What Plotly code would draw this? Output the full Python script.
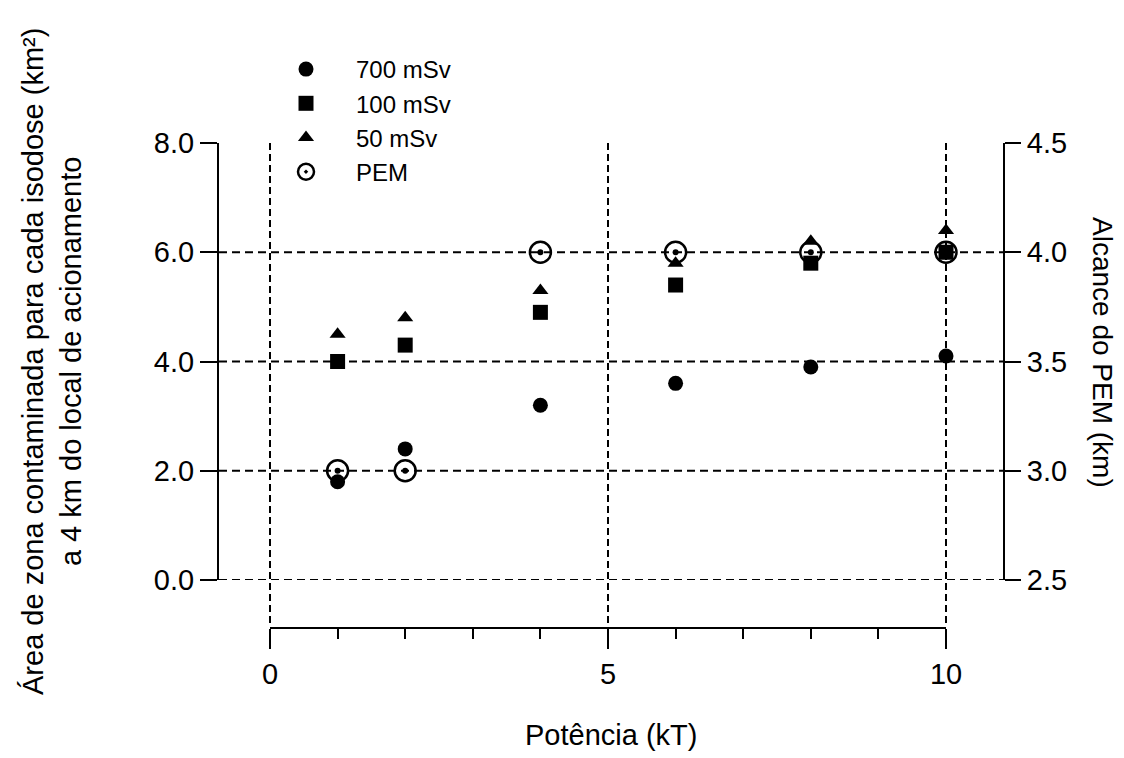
import plotly.graph_objects as go

# ---- data ----
potencia = [1, 2, 4, 6, 8, 10]
area_700 = [1.8, 2.4, 3.2, 3.6, 3.9, 4.1]
area_100 = [4.0, 4.3, 4.9, 5.4, 5.8, 6.0]
area_50 = [4.5, 4.8, 5.3, 5.8, 6.2, 6.4]
alcance_pem = [3.0, 3.0, 4.0, 4.0, 4.0, 4.0]

x_ticks = [0, 5, 10]
y_left_ticks = [0, 2, 4, 6, 8]
y_right_ticks = [2.5, 3.0, 3.5, 4.0, 4.5]
grid_x = [0, 5, 10]
grid_y = [0, 2, 4, 6]

FONT = "Liberation Sans, Arial, sans-serif"
W, H = 1124, 758
L, R, T, B = 219, 121, 143, 130
PW = W - L - R
PH = H - T - B

# pixel geometry helpers (layout only)
x0_px, x10_px = 270, 946
ppu = (x10_px - x0_px) / 10.0
x_lo = -(x0_px - L) / ppu
x_hi = 10 + (W - R - x10_px) / ppu
y_dom_lo = (T + PH - 580) / PH

fig = go.Figure()

# dummy trace to create the visible bottom axis subplot (drawn first)
fig.add_trace(go.Scatter(x=[None], y=[None], mode="markers", showlegend=False,
                         hoverinfo="skip", xaxis="x2", yaxis="y"))
fig.add_trace(go.Scatter(x=potencia, y=area_700, mode="markers", name="700 mSv",
                         marker=dict(symbol="circle", size=15, color="black"),
                         xaxis="x", yaxis="y"))
fig.add_trace(go.Scatter(x=potencia, y=area_100, mode="markers", name="100 mSv",
                         marker=dict(symbol="square", size=15, color="black"),
                         xaxis="x", yaxis="y"))
fig.add_trace(go.Scatter(x=potencia, y=area_50, mode="markers", name="50 mSv",
                         marker=dict(symbol="triangle-up", size=14, color="black"),
                         xaxis="x", yaxis="y"))
fig.add_trace(go.Scatter(x=potencia, y=alcance_pem, mode="markers", name="PEM",
                         marker=dict(symbol="circle-open-dot", size=21, color="black",
                                     line=dict(width=2.5, color="black")),
                         xaxis="x", yaxis="y2"))
fig.add_trace(go.Scatter(x=potencia, y=alcance_pem, mode="markers", showlegend=False,
                         marker=dict(symbol="circle", size=6, color="black"),
                         hoverinfo="skip", xaxis="x", yaxis="y2"))

shapes = []
for gy in grid_y:
    shapes.append(dict(type="line", xref="paper", x0=0, x1=1, yref="y", y0=gy, y1=gy,
                       line=dict(color="black", width=2, dash="8px,5px"), layer="below"))
for gx in grid_x:
    shapes.append(dict(type="line", xref="x", x0=gx, x1=gx, yref="paper",
                       y0=5 / PH, y1=1,
                       line=dict(color="black", width=2, dash="7px,4px"), layer="below"))

fig.update_layout(
    width=W, height=H,
    margin=dict(l=L, r=R, t=T, b=B, pad=0, autoexpand=False),
    paper_bgcolor="white", plot_bgcolor="rgba(0,0,0,0)",
    font=dict(family=FONT, size=29, color="black"),
    showlegend=True,
    legend=dict(x=(256 - L) / PW, y=1 + (143 - 47) / PH, xanchor="left", yanchor="top",
                font=dict(size=24, family=FONT, color="black"),
                bgcolor="rgba(0,0,0,0)", borderwidth=0, tracegroupgap=0,
                itemsizing="trace", itemwidth=90),
    xaxis=dict(domain=[0, 1], range=[x_lo, x_hi], visible=False, fixedrange=True),
    xaxis2=dict(domain=[(x0_px - L) / PW, (x10_px - L) / PW], range=[0, 10],
                anchor="free", position=0, showline=True, linewidth=2, linecolor="black",
                ticks="outside", ticklen=20, tickwidth=2, tickcolor="black",
                tickvals=x_ticks, showgrid=False, zeroline=False,
                tickfont=dict(size=29),
                minor=dict(dtick=1, tick0=0, ticks="outside", ticklen=10, tickwidth=2,
                           tickcolor="black", showgrid=False)),
    yaxis=dict(domain=[y_dom_lo, 1], range=[0, 8], anchor="x",
               showline=True, linewidth=2, linecolor="black",
               ticks="outside", ticklen=17, tickwidth=2, tickcolor="black",
               tickvals=y_left_ticks, tickformat=".1f", showgrid=False, zeroline=False,
               tickfont=dict(size=29)),
    yaxis2=dict(domain=[y_dom_lo, 1], range=[2.5, 4.5], anchor="x", overlaying="y",
                side="right", showline=True, linewidth=2, linecolor="black",
                ticks="outside", ticklen=16, tickwidth=2, tickcolor="black",
                tickvals=y_right_ticks, tickformat=".1f", showgrid=False, zeroline=False,
                tickfont=dict(size=29)),
    shapes=shapes,
)

fig.add_annotation(text="Área de zona contaminada para cada isodose (km²)<br>a 4 km do local de acionamento",
                   xref="paper", yref="paper", x=(52 - L) / PW, y=1 - (362 - T) / PH,
                   xanchor="center", yanchor="middle", textangle=-90, showarrow=False,
                   font=dict(size=29, family=FONT))
fig.add_annotation(text="Alcance do PEM (km)",
                   xref="paper", yref="paper", x=(1103 - L) / PW, y=1 - (352 - T) / PH,
                   xanchor="center", yanchor="middle", textangle=90, showarrow=False,
                   font=dict(size=28, family=FONT))
fig.add_annotation(text="Potência (kT)",
                   xref="paper", yref="paper", x=(611 - L) / PW, y=-(735 - (T + PH)) / PH,
                   xanchor="center", yanchor="middle", showarrow=False,
                   font=dict(size=29, family=FONT))

fig.write_html("out.html", config={"displayModeBar": False},
               post_script="document.body.style.margin='0px';")
